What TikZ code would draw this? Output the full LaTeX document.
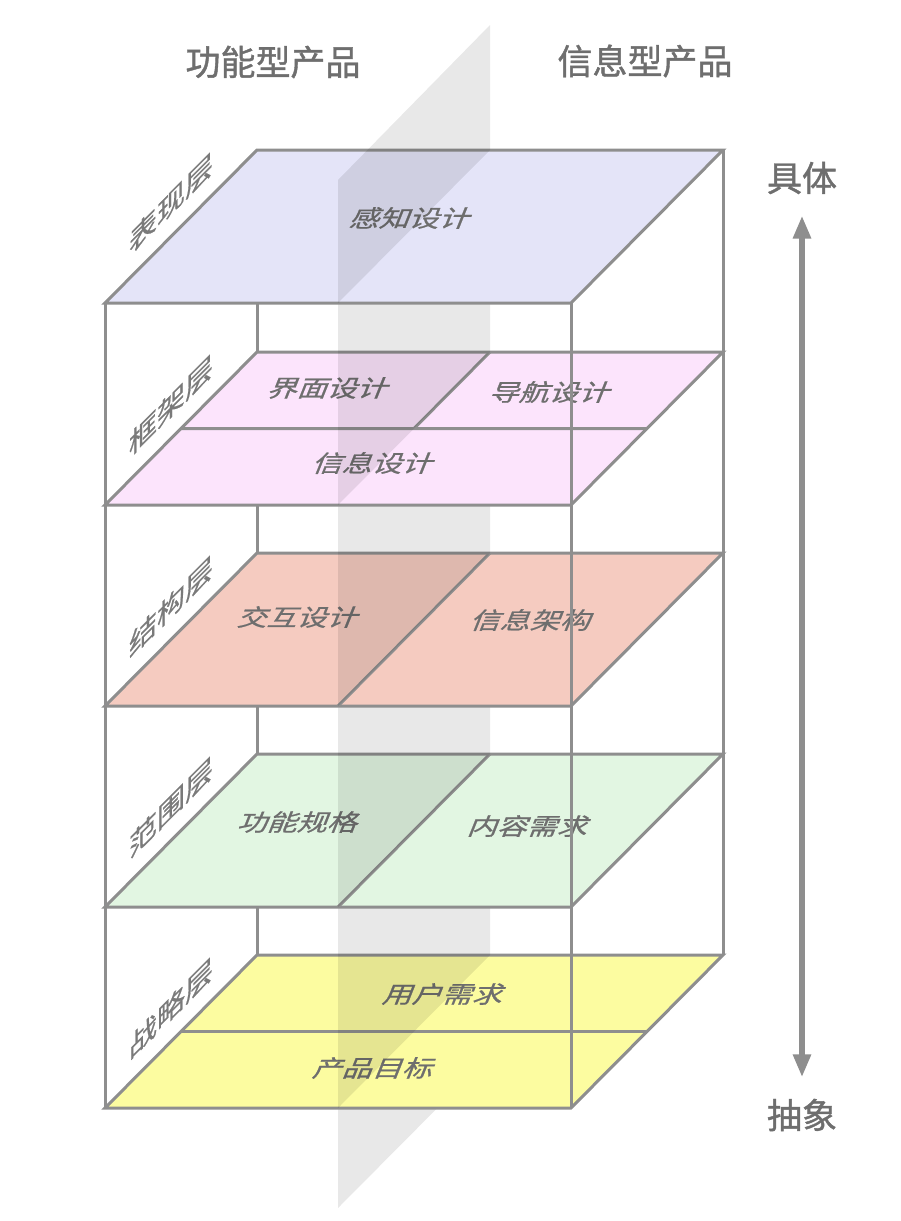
\documentclass[tikz,border=0pt]{standalone}
\usepackage{fontspec}
\setmainfont{Noto Sans CJK SC}
\newfontfamily\headfont[FakeBold=1.2]{Noto Sans CJK SC}
\newfontfamily\tagfont[FakeBold=0.7]{Noto Sans CJK SC}
\usetikzlibrary{arrows.meta}

\definecolor{linegray}{HTML}{8E8E8E}
\definecolor{inkgray}{HTML}{6E6E6E}
\definecolor{surfacecol}{HTML}{E4E4F8}
\definecolor{framecol}{HTML}{FCE4FC}
\definecolor{structcol}{HTML}{F5CBC0}
\definecolor{scopecol}{HTML}{E2F6E2}
\definecolor{strategycol}{HTML}{FCFCA0}

\begin{document}
\begin{tikzpicture}[x=1pt, y=-1pt,
	edge/.style={draw=linegray, line width=3pt},
	slab/.style={fill=black, fill opacity=0.09},
	side/.style={text=inkgray!92, font=\tagfont\fontsize{28}{28}\selectfont, yslant=1, transform shape},
	tag/.style={text=inkgray, font=\tagfont\fontsize{30}{30}\selectfont, xslant=0.4, yscale=0.78, transform shape},
	head/.style={text=inkgray, font=\headfont\fontsize{35}{35}\selectfont}]
		\useasboundingbox (0,0) rectangle (900,1221);
		
		% box edges behind the layers
		\draw[edge] (105,303) -- (105,1108);
		\draw[edge] (257,150) -- (257,955);
		\draw[edge] (723,150) -- (723,955);
		
		% strategy layer
		\fill[slab] (338,1208) -- (490,1055) -- (490,955) -- (338,1108) -- cycle;
		\filldraw[edge, fill=strategycol] (105,1108) -- (571,1108) -- (723,955) -- (257,955) -- cycle;
		\draw[edge] (181,1031) -- (647,1031);
		\node[tag] (goal) at (375,1068) {产品目标};
		\node[tag] (need) at (445,994) {用户需求};
		
		% scope layer
		\fill[slab] (338,1108) -- (490,955) -- (490,754) -- (338,907) -- cycle;
		\filldraw[edge, fill=scopecol] (105,907) -- (571,907) -- (723,754) -- (257,754) -- cycle;
		\draw[edge] (338,907) -- (490,754);
		\node[tag] (spec) at (300,822) {功能规格};
		\node[tag] (content) at (530,826) {内容需求};
		
		% structure layer
		\fill[slab] (338,907) -- (490,754) -- (490,553) -- (338,706) -- cycle;
		\filldraw[edge, fill=structcol] (105,706) -- (571,706) -- (723,553) -- (257,553) -- cycle;
		\draw[edge] (338,706) -- (490,553);
		\node[tag] (interact) at (300,617) {交互设计};
		\node[tag] (arch) at (533,620) {信息架构};
		
		% frame layer
		\fill[slab] (338,706) -- (490,553) -- (490,352) -- (338,505) -- cycle;
		\filldraw[edge, fill=framecol] (105,505) -- (571,505) -- (723,352) -- (257,352) -- cycle;
		\draw[edge] (181,428.5) -- (647,428.5) (490,352) -- (414,428.5);
		\node[tag] (ui) at (330,388) {界面设计};
		\node[tag] (nav) at (552,392) {导航设计};
		\node[tag] (infodesign) at (375,463) {信息设计};
		
		% surface layer
		\fill[slab] (338,505) -- (490,352) -- (490,150) -- (338,303) -- cycle;
		\filldraw[edge, fill=surfacecol] (105,303) -- (571,303) -- (723,150) -- (257,150) -- cycle;
		\node[tag] (sense) at (412,218) {感知设计};
		\fill[slab] (338,303) -- (490,150) -- (490,25) -- (338,180) -- cycle;
		
		% front edge
		\draw[edge] (571,303) -- (571,1108);
		
		% layer names
		\node[side] (surface) at (171,203) {表现层};
		\node[side] (frame) at (171,405) {框架层};
		\node[side] (structure) at (171,606) {结构层};
		\node[side] (scope) at (171,807) {范围层};
		\node[side] (strategy) at (171,1008) {战略层};
		
		% headings
		\node[head] (function) at (273,62) {功能型产品};
		\node[head] (information) at (645,61) {信息型产品};
		\node[head] (concrete) at (802,178) {具体};
		\node[head] (abstract) at (802,1115) {抽象};
		\draw[draw=linegray, line width=6pt, {Triangle[length=23pt,width=17pt]}-{Triangle[length=23pt,width=17pt]}, shorten <=18pt, shorten >=18pt] (concrete) -- (abstract);
		\end{tikzpicture}
\end{document}
